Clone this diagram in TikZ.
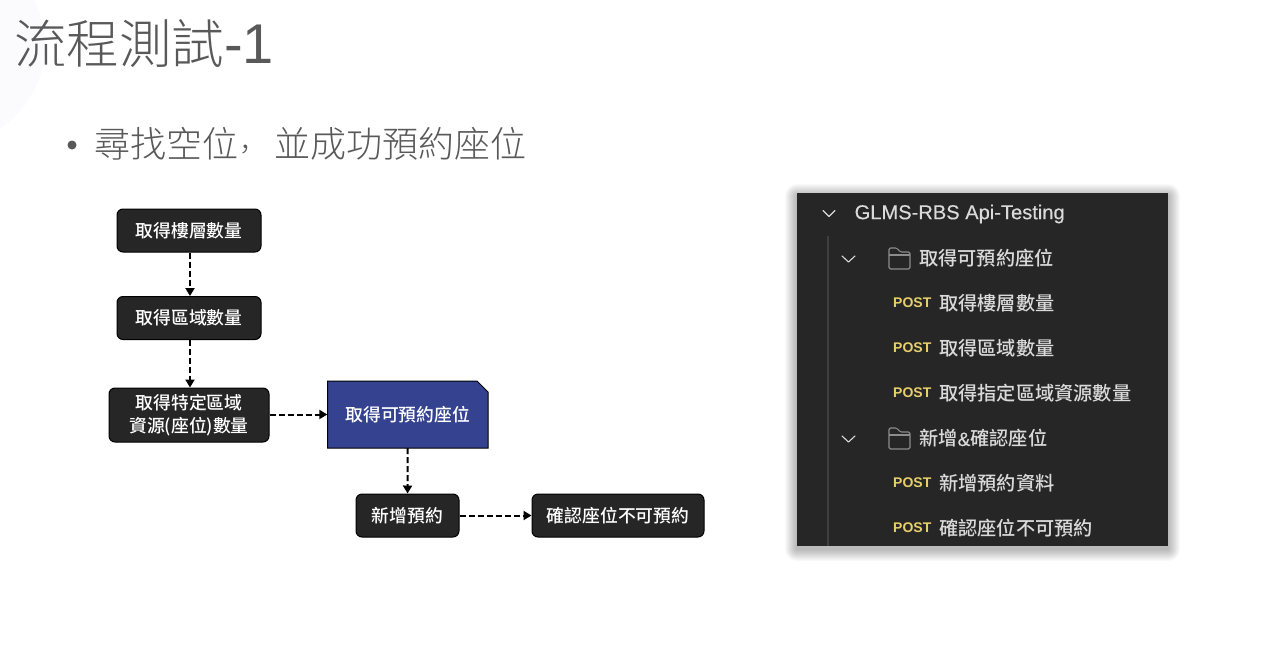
\documentclass[tikz,border=0pt]{standalone}
\usepackage{fontspec}
\setmainfont{Liberation Sans}
\newfontfamily\cjk{Noto Sans CJK TC}
\newfontfamily\cjkm{Noto Sans CJK TC Medium}
\newfontfamily\cjkl{Noto Sans CJK TC Light}
\newfontfamily\cjksc{Noto Sans CJK SC Light}
\newfontfamily\rootfont[FakeBold=0.3]{Liberation Sans}
\usetikzlibrary{arrows.meta}
\definecolor{titlegray}{HTML}{595959}
\definecolor{darkbox}{HTML}{262626}
\definecolor{bluebox}{HTML}{344290}
\definecolor{panel}{HTML}{262626}
\definecolor{paneltext}{HTML}{DADADA}
\definecolor{postyellow}{HTML}{E8CF6A}
\definecolor{panelline}{HTML}{3F3F3F}
\definecolor{iconline}{HTML}{8C8C8C}
\newcommand{\dn}[1]{\raisebox{-1pt}{#1}}
\tikzset{
  x=1pt,y=-1pt,
  flowbox/.style={draw=black,line width=1pt,fill=darkbox,rounded corners=6pt,text=white,align=center,inner sep=0pt,font=\cjkm\fontsize{17.8}{23}\selectfont},
  bluelabel/.style={text=white,align=center,inner sep=0pt,font=\cjkm\fontsize{17.8}{21}\selectfont},
  flowarrow/.style={draw=black,line width=2pt,dash pattern=on 6pt off 3pt,-{Triangle[width=9pt,length=8pt,sep=0pt]}},
  paneltxt/.style={anchor=west,inner sep=0pt,text=paneltext,font=\cjkm\fontsize{19.2}{21}\selectfont},
  postlabel/.style={anchor=west,inner sep=0pt,text=postyellow,font=\fontsize{14}{15}\bfseries\selectfont},
  chev/.style={draw=paneltext,line width=1.1pt,line cap=round,line join=round},
  foldericon/.style={draw=iconline,line width=1.1pt,rounded corners=1.5pt,line join=round}
}
\begin{document}
\begin{tikzpicture}
\useasboundingbox (0,0) rectangle (1280,651);
\fill[white] (0,0) rectangle (1280,651);
% faint decoration
\fill[blue!30!gray,opacity=0.02] (-55,45) circle (100);
% title
\node[anchor=west,inner sep=0pt,text=titlegray] (title) at (14,44) {\cjkl\fontsize{52.5}{60}\selectfont 流程測試\fontspec{Liberation Sans}\fontsize{56}{60}\selectfont -1};
\node[anchor=west,inner sep=0pt,text=titlegray] (sub) at (94,144) {\cjkl\fontsize{36}{40}\selectfont 尋找空位{\cjksc\fontsize{28}{40}\selectfont\kern1pt\raisebox{6pt}{，}\kern7pt}並成功預約座位};
\fill[titlegray] (72,145) circle (4.5);
% flow
\node[flowbox,minimum width=144,minimum height=43] (a) at (189,230.5) {\dn{取得樓層數量}};
\node[flowbox,minimum width=144,minimum height=43] (b) at (189,318) {\dn{取得區域數量}};
\node[flowbox,minimum width=160,minimum height=54] (c) at (189,415) {\dn{取得特定區域}\\\dn{資源(座位)數量}};
\fill[bluebox,draw=black,line width=1pt] (327.5,381) -- (477,381) -- (488,392) -- (488,448) -- (327.5,448) -- cycle;
\node[bluelabel,minimum width=160.5,minimum height=67] (d) at (407.75,414.5) {\dn{取得可預約座位}};
\node[flowbox,minimum width=103,minimum height=43] (e) at (407.5,515.5) {\dn{新增預約}};
\node[flowbox,minimum width=172,minimum height=43] (f) at (618,515.5) {\dn{確認座位不可預約}};
\draw[flowarrow] ([xshift=1pt]a.south) -- ([xshift=1pt]b.north);
\draw[flowarrow] ([xshift=1pt]b.south) -- ([xshift=1pt]c.north);
\draw[flowarrow] (c.east|-d) -- (d);
\draw[flowarrow] (d) -- (e);
\draw[flowarrow] (e) -- (f);
% panel
\foreach \s in {12,11,...,1}
  \fill[black,opacity=0.025,rounded corners=\s pt] (797-\s,193-\s+3) rectangle (1168+\s,546+\s+3);
\fill[panel] (797,193) rectangle (1168,546);
\draw[panelline,line width=1.2pt] (828,236) -- (828,546);
\draw[chev] (823,210.5) -- (829,216.5) -- (835,210.5);
\node[paneltxt,font=\rootfont\fontsize{20.1}{21}\selectfont] (root) at (854.5,214) {GLMS-RBS Api-Testing};
\draw[chev] (842,256) -- (848.5,262) -- (855,256);
\draw[foldericon] (889,248) -- (897,248) -- (900,252) -- (910,252) -- (910,269) -- (889,269) -- cycle;
\draw[iconline,line width=1.1pt] (889,255) -- (910,255);
\node[paneltxt] (f1) at (919,258.5) {取得可預約座位};
\node[postlabel] (p1) at (893,303) {POST};
\node[paneltxt] (t1) at (939,303) {取得樓層數量};
\node[postlabel] (p2) at (893,348) {POST};
\node[paneltxt] (t2) at (939,348) {取得區域數量};
\node[postlabel] (p3) at (893,393) {POST};
\node[paneltxt] (t3) at (939,393) {取得指定區域資源數量};
\draw[chev] (842,436) -- (848.5,442) -- (855,436);
\draw[foldericon] (889,428) -- (897,428) -- (900,432) -- (910,432) -- (910,449) -- (889,449) -- cycle;
\draw[iconline,line width=1.1pt] (889,435) -- (910,435);
\node[paneltxt] (f2) at (919,438.5) {新增{\rootfont\&}確認座位};
\node[postlabel] (p4) at (893,483) {POST};
\node[paneltxt] (t4) at (939,483) {新增預約資料};
\node[postlabel] (p5) at (893,528) {POST};
\node[paneltxt] (t5) at (939,528) {確認座位不可預約};
\end{tikzpicture}
\end{document}
